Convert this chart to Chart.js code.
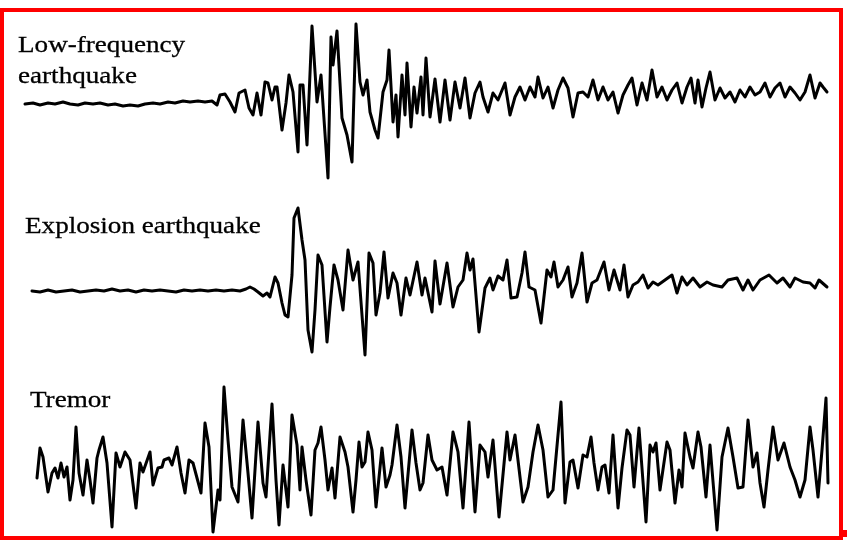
<!DOCTYPE html>
<html>
<head>
<meta charset="utf-8">
<script src="https://cdn.jsdelivr.net/npm/chart.js@4.4.1/dist/chart.umd.min.js"></script>
<style>
  html, body { margin: 0; padding: 0; background: #fff; }
  #page { position: relative; width: 847px; height: 541px; overflow: hidden; background: #fff; }
  #frame { position: absolute; left: 0; top: 8px; width: 843px; height: 532px; box-sizing: border-box; border: 4px solid #ff0000; }
  #tick { position: absolute; left: 843px; top: 530px; width: 4px; height: 7px; background: #ff0000; }
  canvas { position: absolute; left: 4px; }
  .lbl { position: absolute; z-index: 2; font-family: "Liberation Serif", "DejaVu Serif", serif; font-size: 24px; line-height: 24px; color: #000; -webkit-text-stroke: 0.3px #000; transform: scaleX(1.13); transform-origin: 0 0; white-space: nowrap; }
</style>
</head>
<body>
<div id="page">
  <div id="frame"></div>
  <div id="tick"></div>
  <canvas id="lowfreq" width="835" height="180" style="top:12px"></canvas>
  <canvas id="explosion" width="835" height="180" style="top:192px"></canvas>
  <canvas id="tremor" width="835" height="164" style="top:372px"></canvas>
  <div class="lbl" style="left:18px; top:32px">Low-frequency</div>
  <div class="lbl" style="left:18px; top:63px">earthquake</div>
  <div class="lbl" style="left:25px; top:213px">Explosion earthquake</div>
  <div class="lbl" style="left:30px; top:387px">Tremor</div>
</div>
<script>
//--------------------------------------------------------
// DATA  (time in samples, amplitude in trace units)

// low-frequency earthquake
var lfTime = [5, 13, 20, 28, 35, 43, 50, 58, 65, 73,
  80, 88, 95, 103, 110, 118, 125, 133, 140, 148,
  155, 163, 170, 178, 185, 192, 197, 200, 205, 210,
  215, 219, 225, 229, 233, 237, 241, 245, 248, 252,
  255, 257, 262, 266, 269, 273, 278, 280, 283, 287,
  292, 297, 301, 308, 311, 313, 317, 322, 327, 332,
  336, 340, 343, 347, 350, 355, 358, 363, 367, 369,
  373, 376, 378, 382, 385, 387, 391, 394, 397, 401,
  403, 406, 410, 415, 420, 425, 430, 435, 440, 445,
  450, 455, 460, 463, 468, 473, 478, 485, 490, 495,
  500, 505, 510, 515, 518, 523, 528, 533, 538, 543,
  548, 553, 558, 563, 568, 573, 578, 583, 588, 593,
  598, 603, 608, 612, 617, 622, 627, 632, 637, 642,
  647, 652, 657, 662, 667, 671, 675, 678, 682, 686,
  690, 695, 700, 705, 710, 715, 720, 725, 730, 735,
  740, 745, 750, 755, 760, 765, 770, 775, 780, 785,
  790, 795, 800, 803, 807];
var lfAmp = [0, 1, -1, 1, 0, 2, 0, -1, 1, 0,
  1, -1, 0, -2, -1, -2, 0, 1, 0, 2,
  1, 3, 2, 3, 2, 3, -1, 9, 10, 2,
  -8, 11, 14, -4, -11, 11, -11, 22, 21, 4,
  17, 17, -26, 1, 29, 12, -48, 19, 19, -41,
  78, 2, 29, -74, 67, 39, 73, -14, -31, -58,
  80, 22, 9, 24, -8, -26, -34, 12, 24, 54,
  -18, 9, -33, 29, -11, 41, -23, 17, -9, 27,
  -11, 46, -13, 25, -18, 24, -16, 22, -4, 26,
  -14, 11, 22, 7, -8, 11, 4, 21, -11, 7,
  17, 4, 17, 7, 27, 6, 17, -4, 14, 26,
  16, -13, 11, 12, 7, 24, 4, 17, 4, 12,
  -9, 9, 19, 26, -1, 21, 4, 34, 7, 17,
  4, 14, 21, 1, 17, 26, 1, 24, -3, 16,
  32, 4, 16, 6, 12, 2, 14, 7, 17, 9,
  12, 21, 7, 16, 21, 7, 17, 11, 4, 12,
  29, 6, 21, 17, 12];

// explosion earthquake
var exTime = [12, 20, 28, 36, 44, 52, 60, 68, 76, 84,
  92, 100, 108, 116, 124, 132, 140, 148, 156, 164,
  172, 180, 188, 196, 204, 212, 220, 226, 230, 234,
  238, 243, 247, 250, 255, 258, 262, 265, 268, 272,
  274, 278, 282, 285, 288, 292, 295, 298, 302, 307,
  310, 314, 318, 323, 328, 333, 338, 345, 349, 353,
  356, 360, 364, 368, 373, 377, 381, 386, 390, 397,
  402, 405, 412, 415, 420, 427, 433, 438, 443, 447,
  450, 453, 459, 465, 470, 473, 478, 483, 487, 491,
  497, 502, 505, 509, 515, 521, 527, 531, 534, 538,
  543, 548, 552, 557, 562, 567, 572, 577, 584, 589,
  594, 600, 604, 608, 613, 618, 623, 628, 633, 638,
  645, 652, 657, 662, 667, 673, 680, 687, 693, 702,
  708, 717, 723, 728, 733, 740, 749, 757, 763, 770,
  775, 783, 790, 795, 799, 807];
var exAmp = [0, -1, 1, -1, 0, 1, -1, 0, 1, 0,
  2, 0, 1, -1, 1, 0, 1, 0, -1, 1,
  0, 1, 0, 1, 0, 1, 0, 2, 4, 2,
  -1, -5, -2, -6, 14, 8, -12, -24, -26, 16,
  73, 83, 51, 31, -39, -61, -19, 36, 26, -51,
  -16, 26, 11, -19, 41, 11, 29, -64, 38, 28,
  -24, -2, 39, -7, 18, 8, -24, 13, -4, 29,
  -4, 13, -21, 30, -13, 28, -16, 4, 11, 38,
  21, 32, -41, 3, 13, 1, 15, 11, 31, -7,
  -6, 18, 39, 4, 1, -32, 21, 14, 29, 4,
  11, 24, -6, 8, 38, -11, 8, 11, 29, 1,
  21, 1, 26, -6, 6, 9, 16, 3, 9, 6,
  11, 16, -2, 14, 6, 13, 4, 9, 6, 4,
  11, 13, 1, 11, 1, 11, 16, 8, 13, 4,
  13, 9, 8, 3, 11, 4];

// tremor
var trTime = [17, 20, 23, 28, 32, 35, 38, 41, 44, 47,
  50, 53, 56, 59, 63, 67, 70, 73, 77, 79,
  83, 87, 92, 96, 100, 105, 110, 116, 120, 123,
  130, 133, 138, 142, 144, 149, 152, 157, 161, 165,
  169, 173, 177, 181, 185, 189, 193, 198, 200, 204,
  208, 212, 218, 223, 228, 232, 238, 243, 246, 252,
  256, 259, 263, 268, 272, 277, 280, 282, 286, 291,
  295, 298, 301, 305, 308, 312, 315, 320, 325, 328,
  333, 336, 339, 342, 345, 348, 352, 356, 362, 366,
  370, 372, 377, 381, 385, 392, 396, 400, 403, 408,
  412, 417, 422, 427, 433, 438, 443, 449, 455, 460,
  465, 468, 473, 479, 487, 490, 495, 500, 503, 508,
  513, 518, 523, 528, 533, 541, 545, 550, 553, 558,
  563, 567, 571, 574, 578, 582, 585, 589, 593, 598,
  602, 607, 610, 614, 619, 626, 630, 633, 636, 640,
  647, 650, 655, 659, 662, 665, 670, 673, 678, 681,
  686, 690, 697, 702, 708, 713, 718, 723, 728, 733,
  737, 740, 744, 748, 753, 758, 764, 770, 775, 780,
  785, 790, 793, 798, 802, 806, 808];
var trAmp = [-8, 22, 13, -22, -3, 2, -8, 7, -7, 3,
  -30, -10, 43, -3, -25, 10, -10, -33, 12, 20,
  33, 7, -57, 17, 3, 18, 10, -38, 7, -2,
  18, -15, 2, 3, 10, 12, 5, 23, -3, -23,
  10, 7, -8, -23, 47, 23, -62, -20, -30, 83,
  30, -17, -32, 50, -3, -48, 48, -13, -27, 66,
  -10, -55, 5, -37, 55, 25, -20, 23, -10, -45,
  20, 27, 43, 10, -20, 2, -28, 33, 18, 3,
  -42, -10, 28, 3, 8, 38, 20, -37, 22, -17,
  -5, 5, 45, 13, -38, 40, 7, -20, -13, 35,
  10, 0, 3, -25, 38, 18, -38, 48, -42, 25,
  18, -7, 30, -47, 38, 10, 35, -7, -32, -17,
  18, 45, 20, -27, -20, 68, -33, 8, 10, -18,
  15, 13, 33, 7, -20, 3, 5, -23, 35, -38,
  2, 40, 35, -17, 42, -52, 25, 18, 27, -20,
  28, 20, -33, 0, -17, 37, 13, 2, 38, 23,
  -27, 25, -60, 13, 42, 13, -18, -17, 50, 3,
  17, -13, -37, 0, 43, 10, 27, 3, -10, -27,
  -10, 43, 20, -27, 20, 72, -13];

//--------------------------------------------------------
// GRAFICAS

function trace(id, times, amps, yMin, yMax) {
  new Chart(document.getElementById(id), {
    type: 'line',
    data: {
      datasets: [{
        data: times.map(function (t, i) { return { x: t, y: amps[i] }; }),
        borderColor: '#000',
        borderWidth: 3,
        borderJoinStyle: 'round',
        borderCapStyle: 'round',
        pointRadius: 0,
        tension: 0,
        fill: false
      }]
    },
    options: {
      responsive: false,
      animation: false,
      events: [],
      layout: { padding: 0 },
      plugins: {
        legend: { display: false },
        title: { display: false },
        tooltip: { enabled: false }
      },
      scales: {
        x: { type: 'linear', min: -16, max: 819, display: false },
        y: { min: yMin, max: yMax, display: false }
      }
    }
  })
}

trace('lowfreq', lfTime, lfAmp, -88, 92)
trace('explosion', exTime, exAmp, -81, 99)
trace('tremor', trTime, trAmp, -66, 98)
</script>
</body>
</html>
